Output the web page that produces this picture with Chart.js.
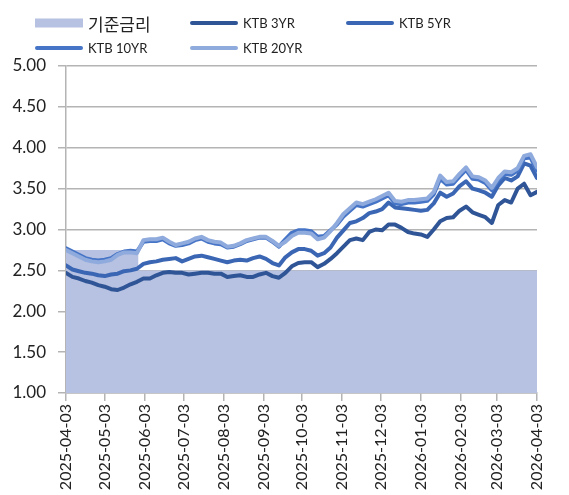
<!DOCTYPE html>
<html lang="ko">
<head>
<meta charset="utf-8">
<title>국고채 금리와 기준금리</title>
<script src="https://cdn.jsdelivr.net/npm/chart.js@4.4.1/dist/chart.umd.min.js"></script>
<style>
  body { margin: 0; background: #fff; }
  #wrap { position: relative; width: 569px; height: 495px; }
  #legend { position: absolute; left: 0; top: 0; width: 569px; height: 60px; }
  .item { position: absolute; display: flex; align-items: center; white-space: nowrap; color: #222;
          font-family: Lato, "Noto Sans CJK KR", sans-serif; transform: translateY(-50%); }
  .swatch { width: 48px; margin-right: 5px; }
</style>
</head>
<body>
<div id="wrap">
  <canvas id="chart"></canvas>
  <div id="legend"></div>
</div>
<script>
const dates = [
    "2025-04-03", "2025-04-08", "2025-04-13", "2025-04-18", "2025-04-23", "2025-04-28",
    "2025-05-03", "2025-05-08", "2025-05-13", "2025-05-18", "2025-05-23", "2025-05-28",
    "2025-06-02", "2025-06-07", "2025-06-12", "2025-06-17", "2025-06-22", "2025-06-27",
    "2025-07-02", "2025-07-07", "2025-07-12", "2025-07-17", "2025-07-22", "2025-07-27",
    "2025-08-01", "2025-08-06", "2025-08-11", "2025-08-16", "2025-08-21", "2025-08-26", "2025-08-31",
    "2025-09-05", "2025-09-10", "2025-09-15", "2025-09-20", "2025-09-25", "2025-09-30",
    "2025-10-05", "2025-10-10", "2025-10-15", "2025-10-20", "2025-10-25", "2025-10-30",
    "2025-11-04", "2025-11-09", "2025-11-14", "2025-11-19", "2025-11-24", "2025-11-29",
    "2025-12-04", "2025-12-09", "2025-12-14", "2025-12-19", "2025-12-24", "2025-12-29",
    "2026-01-03", "2026-01-08", "2026-01-13", "2026-01-18", "2026-01-23", "2026-01-28",
    "2026-02-02", "2026-02-07", "2026-02-12", "2026-02-17", "2026-02-22", "2026-02-27",
    "2026-03-04", "2026-03-09", "2026-03-14", "2026-03-19", "2026-03-24", "2026-03-29",
    "2026-04-03"
];

const ktb3 = [
    2.47, 2.42, 2.40, 2.37, 2.35, 2.32, 2.30, 2.27, 2.26, 2.29, 2.33, 2.36,
    2.40, 2.40, 2.44, 2.47, 2.48, 2.47, 2.47, 2.45, 2.46, 2.47, 2.47, 2.46,
    2.46, 2.42, 2.43, 2.44, 2.42, 2.42, 2.45, 2.47, 2.43, 2.41, 2.47, 2.55,
    2.59, 2.60, 2.60, 2.54, 2.58, 2.64, 2.71, 2.79, 2.87, 2.89, 2.87, 2.97,
    3.00, 2.99, 3.06, 3.06, 3.02, 2.97, 2.95, 2.94, 2.91, 3.00, 3.10, 3.14,
    3.15, 3.23, 3.28, 3.21, 3.18, 3.15, 3.08, 3.30, 3.36, 3.33, 3.50, 3.56,
    3.42, 3.46
];

const ktb5 = [
    2.56, 2.51, 2.49, 2.47, 2.46, 2.44, 2.43, 2.45, 2.46, 2.49, 2.50, 2.52,
    2.58, 2.60, 2.61, 2.63, 2.64, 2.65, 2.61, 2.64, 2.67, 2.68, 2.66, 2.64,
    2.62, 2.60, 2.62, 2.63, 2.62, 2.65, 2.67, 2.64, 2.59, 2.56, 2.66, 2.72,
    2.76, 2.76, 2.74, 2.68, 2.71, 2.78, 2.90, 2.99, 3.08, 3.10, 3.14, 3.20,
    3.22, 3.25, 3.33, 3.27, 3.26, 3.25, 3.24, 3.23, 3.24, 3.32, 3.45, 3.40,
    3.44, 3.53, 3.59, 3.50, 3.48, 3.45, 3.40, 3.54, 3.63, 3.60, 3.65, 3.81,
    3.78, 3.63
];

const ktb10 = [
    2.77, 2.73, 2.69, 2.65, 2.63, 2.62, 2.63, 2.65, 2.70, 2.73, 2.74, 2.73,
    2.85, 2.86, 2.86, 2.88, 2.83, 2.80, 2.81, 2.83, 2.87, 2.89, 2.85, 2.83,
    2.82, 2.78, 2.79, 2.82, 2.86, 2.88, 2.90, 2.90, 2.85, 2.79, 2.88, 2.96,
    2.99, 2.99, 2.98, 2.91, 2.92, 2.99, 3.06, 3.16, 3.23, 3.30, 3.28, 3.31,
    3.34, 3.38, 3.42, 3.32, 3.31, 3.33, 3.33, 3.34, 3.35, 3.43, 3.62, 3.55,
    3.56, 3.65, 3.73, 3.62, 3.61, 3.57, 3.48, 3.60, 3.68, 3.67, 3.72, 3.87,
    3.88, 3.72
];

const ktb20 = [
    2.75, 2.71, 2.67, 2.63, 2.61, 2.60, 2.61, 2.63, 2.69, 2.72, 2.72, 2.71,
    2.87, 2.88, 2.88, 2.90, 2.85, 2.81, 2.83, 2.85, 2.89, 2.91, 2.87, 2.85,
    2.84, 2.79, 2.80, 2.83, 2.87, 2.89, 2.91, 2.91, 2.86, 2.80, 2.85, 2.92,
    2.96, 2.96, 2.95, 2.88, 2.90, 2.98, 3.08, 3.19, 3.26, 3.33, 3.31, 3.34,
    3.37, 3.41, 3.45, 3.35, 3.34, 3.36, 3.36, 3.37, 3.38, 3.46, 3.66, 3.58,
    3.59, 3.68, 3.76, 3.65, 3.64, 3.60, 3.51, 3.63, 3.71, 3.70, 3.75, 3.90,
    3.92, 3.76
];

// 기준금리: 5/29 인하 후 2.50 유지
const baseRateDates = ["2025-04-03", "2025-05-29", "2026-04-03"];
const baseRate = [2.75, 2.50, 2.50];

const tickLabels = [
    "2025-04-03", "2025-05-03", "2025-06-03", "2025-07-03", "2025-08-03", "2025-09-03",
    "2025-10-03", "2025-11-03", "2025-12-03", "2026-01-03", "2026-02-03", "2026-03-03",
    "2026-04-03"
];

const gray = "#B4B4B4";
const xFont = { family: "Lato, 'Noto Sans', sans-serif", size: 16 };
const yFont = { family: "Lato, 'Noto Sans', sans-serif", size: 17 };

function toPoints(xs, ys) {
    return xs.map((d, i) => ({ x: Date.parse(d), y: ys[i] }));
}

function fmtDate(v) {
    return new Date(v).toISOString().slice(0, 10);
}

function lineSet(label, values, color, order) {
    return {
        label: label,
        data: toPoints(dates, values),
        borderColor: color,
        backgroundColor: color,
        borderWidth: 4,
        borderJoinStyle: "round",
        borderCapStyle: "round",
        pointRadius: 0,
        fill: false,
        order: order
    };
}

const chart = new Chart(document.getElementById("chart"), {
    type: "line",
    data: {
        datasets: [
            {
                label: "기준금리",
                data: toPoints(baseRateDates, baseRate),
                stepped: true,
                fill: "start",
                backgroundColor: "#B7C1E1",
                borderColor: "rgba(0,0,0,0)",
                borderWidth: 0,
                pointRadius: 0,
                order: 5
            },
            lineSet("KTB 3YR", ktb3, "#2F5597", 4),
            lineSet("KTB 5YR", ktb5, "#3A66B4", 3),
            lineSet("KTB 10YR", ktb10, "#4674C6", 2),
            lineSet("KTB 20YR", ktb20, "#8FAADC", 1)
        ]
    },
    options: {
        responsive: true,
        maintainAspectRatio: false,
        animation: false,
        layout: { padding: { top: 66, right: 32, left: 0, bottom: 0 } },
        plugins: {
            legend: { display: false },
            tooltip: { enabled: false }
        },
        scales: {
            x: {
                type: "linear",
                min: Date.parse(tickLabels[0]),
                max: Date.parse(tickLabels[tickLabels.length - 1]),
                afterBuildTicks: scale => {
                    scale.ticks = tickLabels.map(t => ({ value: Date.parse(t) }));
                },
                afterFit: scale => { scale.height = 102; },
                ticks: {
                    autoSkip: false,
                    minRotation: 90,
                    maxRotation: 90,
                    padding: 3,
                    color: "#222",
                    font: xFont,
                    callback: v => fmtDate(v)
                },
                grid: { drawOnChartArea: false, tickLength: 8, color: gray, lineWidth: 1.5 },
                border: { color: gray, width: 1.5 }
            },
            y: {
                min: 1,
                max: 5,
                afterFit: scale => { scale.width = 66; },
                ticks: {
                    stepSize: 0.5,
                    padding: 12,
                    color: "#222",
                    font: yFont,
                    callback: v => v.toFixed(2)
                },
                grid: { color: gray, lineWidth: 1.5, tickLength: 8 },
                border: { color: gray, width: 1.5 }
            }
        }
    }
});

// legend: fixed 3-column grid like the original
const legendCols = [35, 190, 346];
const legendRows = [23, 48];
const legendBox = document.getElementById("legend");
chart.data.datasets.forEach((ds, i) => {
    const item = document.createElement("div");
    item.className = "item";
    item.style.left = legendCols[i % 3] + "px";
    item.style.top = legendRows[Math.floor(i / 3)] + "px";
    const sw = document.createElement("span");
    sw.className = "swatch";
    sw.style.background = ds.backgroundColor;
    sw.style.height = ds.fill ? "9px" : "4px";
    sw.style.borderRadius = ds.fill ? "0" : "2px";
    const txt = document.createElement("span");
    txt.textContent = ds.label;
    txt.style.fontSize = ds.fill ? "17px" : "13px";
    item.appendChild(sw);
    item.appendChild(txt);
    legendBox.appendChild(item);
});
</script>
</body>
</html>
